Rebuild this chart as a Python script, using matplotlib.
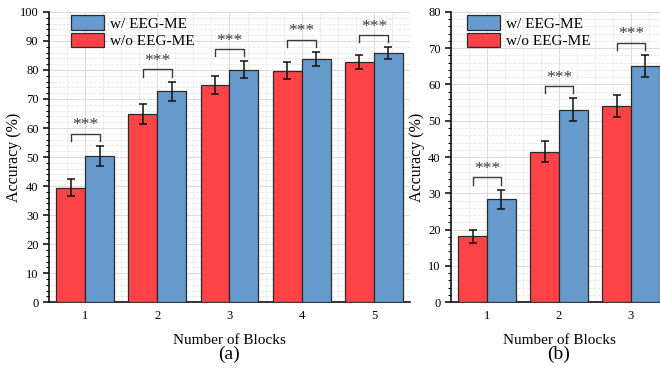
import matplotlib.pyplot as plt
import numpy as np
from matplotlib.ticker import MultipleLocator

# === Data ===
blocks_a = [1, 2, 3, 4, 5]
wo_a = [39.5, 64.9, 74.8, 79.8, 82.7]
wo_a_err = [3.0, 3.5, 3.0, 2.8, 2.4]
w_a = [50.3, 72.7, 80.1, 83.9, 85.8]
w_a_err = [3.5, 3.3, 2.9, 2.4, 2.1]

blocks_b = [1, 2, 3]
wo_b = [18.1, 41.5, 54.0]
wo_b_err = [1.8, 2.9, 3.0]
w_b = [28.4, 53.0, 65.1]
w_b_err = [2.6, 3.2, 3.1]

RED = '#FF4346'
BLUE = '#6699CC'
EDGE = '#2b2b2b'
BAR_W = 0.4

plt.rcParams['font.family'] = ['Liberation Serif', 'DejaVu Serif']

fig = plt.figure(figsize=(6.6, 3.73), dpi=100)
ax_a = fig.add_axes([0.0742, 0.190, 0.547, 0.778])
ax_b = fig.add_axes([0.6833, 0.190, 0.3273, 0.778])


def draw_panel(ax, x, wo, wo_err, w, w_err, ymax, tag, ylabel_x):
    x = np.array(x)
    ax.bar(x - BAR_W / 2, wo, BAR_W, color=RED, edgecolor=EDGE, linewidth=0.9,
           label='w/o EEG-ME', zorder=3)
    ax.bar(x + BAR_W / 2, w, BAR_W, color=BLUE, edgecolor=EDGE, linewidth=0.9,
           label='w/ EEG-ME', zorder=3)
    ax.errorbar(x - BAR_W / 2, wo, yerr=wo_err, fmt='none', ecolor='#111111',
                elinewidth=1.1, capsize=3, capthick=1.1, zorder=4)
    ax.errorbar(x + BAR_W / 2, w, yerr=w_err, fmt='none', ecolor='#111111',
                elinewidth=1.1, capsize=3, capthick=1.1, zorder=4)

    # significance brackets
    gap = 0.042 * ymax
    leg = 0.025 * ymax
    for xi, hi, ei in zip(x, w, w_err):
        yb = hi + ei + gap
        ax.plot([xi - BAR_W / 2, xi - BAR_W / 2, xi + BAR_W / 2, xi + BAR_W / 2],
                [yb - leg, yb, yb, yb - leg], color='#3a3a3a', lw=1.0, zorder=4)
        ax.annotate('***', (xi, yb), xytext=(0, 6), textcoords='offset points',
                    ha='center', va='center', fontsize=12.5, color='#3a3a3a',
                    zorder=4)

    ax.set_xlim(0.5, x[-1] + 0.5)
    ax.set_ylim(0, ymax)
    ax.set_xticks(x)
    ax.yaxis.set_major_locator(MultipleLocator(10))
    ax.yaxis.set_minor_locator(MultipleLocator(2))
    ax.xaxis.set_minor_locator(MultipleLocator(0.25))
    ax.grid(which='major', color='#dcdcdc', lw=0.8, zorder=0)
    ax.grid(which='minor', color='#e6e6e6', lw=0.6, ls='--', zorder=0)
    ax.set_axisbelow(True)
    for s in ('top', 'right'):
        ax.spines[s].set_visible(False)
    for s in ('left', 'bottom'):
        ax.spines[s].set_linewidth(1.2)
        ax.spines[s].set_color('#111111')
    ax.tick_params(axis='y', which='major', direction='out', length=4, width=1.1,
                   labelsize=9)
    ax.tick_params(axis='y', which='minor', direction='out', length=2, width=0.8)
    ax.tick_params(axis='x', which='both', length=0, labelsize=9, pad=6)
    ax.set_xlabel('Number of Blocks', fontsize=11)
    ax.xaxis.set_label_coords(0.5, -0.11)
    ax.set_ylabel('Accuracy (%)', fontsize=11.5)
    ax.yaxis.set_label_coords(ylabel_x, 0.5)

    handles, labels = ax.get_legend_handles_labels()
    ax.legend(handles[::-1], labels[::-1], loc='upper left',
              bbox_to_anchor=(0.045, 1.01), frameon=False, fontsize=11,
              handlelength=2.15, handleheight=1.1, handletextpad=0.4,
              labelspacing=0.12, borderaxespad=0.0)
    ax.text(0.5, -0.18, tag, transform=ax.transAxes,
            ha='center', va='center', fontsize=14)


draw_panel(ax_a, blocks_a, wo_a, wo_a_err, w_a, w_a_err, 100, '(a)', -0.075)
draw_panel(ax_b, blocks_b, wo_b, wo_b_err, w_b, w_b_err, 80, '(b)', -0.118)

fig.savefig('out.png', dpi=100)
